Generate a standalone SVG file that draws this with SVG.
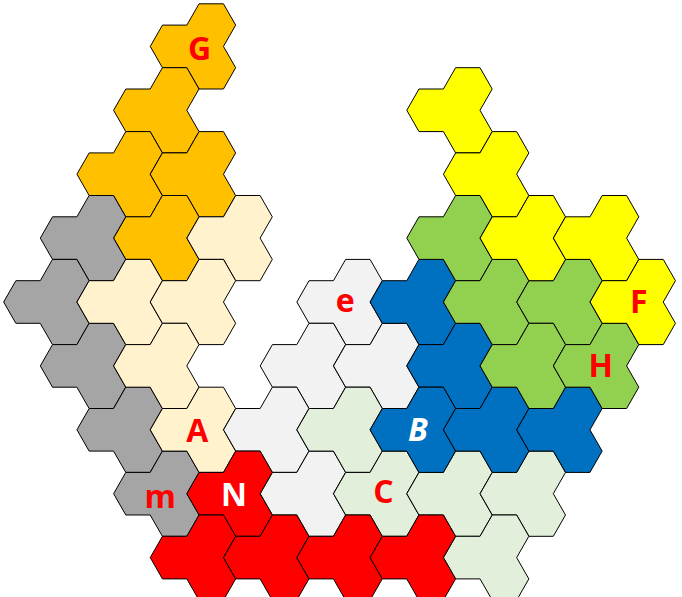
<svg xmlns="http://www.w3.org/2000/svg" xmlns:xlink="http://www.w3.org/1999/xlink" width="682" height="597" viewBox="0 0 682 597">
<style>
.p{stroke:#000;stroke-width:1;stroke-linejoin:miter}
.or{fill:#FFC000}.gy{fill:#A5A5A5}.cr{fill:#FFF2CC}.lg{fill:#F2F2F2}.lgn{fill:#E2EFDA}
.rd{fill:#FF0000}.bl{fill:#0070C0}.gn{fill:#92D050}.ye{fill:#FFFF00}
.t{font-family:"Open Sans","Noto Sans","Liberation Sans",sans-serif;font-weight:700;font-size:32px;text-anchor:middle}
.tr{fill:#FF0000}.tw{fill:#FFFFFF}
</style>
<defs>
<path id="tri" d="M-12.2,-21.3 L12.2,-21.3 L24.4,0 L12.2,21.3 L24.4,42.6 L12.2,63.9 L-12.2,63.9 L-24.4,42.6 L-48.8,42.6 L-61,21.3 L-48.8,0 L-24.4,0 Z"/>
</defs>
<rect width="682" height="597" fill="#FFFFFF"/>
<g id="pieces">
<g id="orange-G"><use xlink:href="#tri" href="#tri" class="p or" x="211.25" y="25.1"/></g>
<g id="orange-2"><use href="#tri" class="p or" x="174.6" y="89"/></g>
<g id="orange-3"><use href="#tri" class="p or" x="137.95" y="152.9"/></g>
<g id="orange-4"><use href="#tri" class="p or" x="211.25" y="152.9"/></g>
<g id="orange-5"><use href="#tri" class="p or" x="174.6" y="216.8"/></g>

<g id="gray-1"><use href="#tri" class="p gy" x="101.3" y="216.8"/></g>
<g id="gray-2"><use href="#tri" class="p gy" x="64.65" y="280.7"/></g>
<g id="gray-3"><use href="#tri" class="p gy" x="101.3" y="344.6"/></g>
<g id="gray-4"><use href="#tri" class="p gy" x="137.95" y="408.5"/></g>
<g id="gray-m"><use href="#tri" class="p gy" x="174.6" y="472.4"/></g>

<g id="cream-1"><use href="#tri" class="p cr" x="247.9" y="216.8"/></g>
<g id="cream-2"><use href="#tri" class="p cr" x="137.95" y="280.7"/></g>
<g id="cream-3"><use href="#tri" class="p cr" x="211.25" y="280.7"/></g>
<g id="cream-4"><use href="#tri" class="p cr" x="174.6" y="344.6"/></g>
<g id="cream-A"><use href="#tri" class="p cr" x="211.25" y="408.5"/></g>

<g id="lightgray-e"><use href="#tri" class="p lg" x="357.85" y="280.7"/></g>
<g id="lightgray-2"><use href="#tri" class="p lg" x="321.2" y="344.6"/></g>
<g id="lightgray-3"><use href="#tri" class="p lg" x="394.5" y="344.6"/></g>
<g id="lightgray-4"><use href="#tri" class="p lg" x="284.55" y="408.5"/></g>
<g id="lightgray-5"><use href="#tri" class="p lg" x="321.2" y="472.4"/></g>

<g id="lightgreen-1"><use href="#tri" class="p lgn" x="357.85" y="408.5"/></g>
<g id="lightgreen-C"><use href="#tri" class="p lgn" x="394.5" y="472.4"/></g>
<g id="lightgreen-3"><use href="#tri" class="p lgn" x="467.8" y="472.4"/></g>
<g id="lightgreen-4"><use href="#tri" class="p lgn" x="541.1" y="472.4"/></g>
<g id="lightgreen-5"><use href="#tri" class="p lgn" x="504.45" y="536.3"/></g>

<g id="red-N"><use href="#tri" class="p rd" x="247.9" y="472.4"/></g>
<g id="red-2"><use href="#tri" class="p rd" x="211.25" y="536.3"/></g>
<g id="red-3"><use href="#tri" class="p rd" x="284.55" y="536.3"/></g>
<g id="red-4"><use href="#tri" class="p rd" x="357.85" y="536.3"/></g>
<g id="red-5"><use href="#tri" class="p rd" x="431.15" y="536.3"/></g>

<g id="blue-1"><use href="#tri" class="p bl" x="431.15" y="280.7"/></g>
<g id="blue-2"><use href="#tri" class="p bl" x="467.8" y="344.6"/></g>
<g id="blue-B"><use href="#tri" class="p bl" x="431.15" y="408.5"/></g>
<g id="blue-4"><use href="#tri" class="p bl" x="504.45" y="408.5"/></g>
<g id="blue-5"><use href="#tri" class="p bl" x="577.75" y="408.5"/></g>

<g id="green-1"><use href="#tri" class="p gn" x="467.8" y="216.8"/></g>
<g id="green-2"><use href="#tri" class="p gn" x="504.45" y="280.7"/></g>
<g id="green-3"><use href="#tri" class="p gn" x="577.75" y="280.7"/></g>
<g id="green-4"><use href="#tri" class="p gn" x="541.1" y="344.6"/></g>
<g id="green-H"><use href="#tri" class="p gn" x="614.4" y="344.6"/></g>

<g id="yellow-1"><use href="#tri" class="p ye" x="467.8" y="89"/></g>
<g id="yellow-2"><use href="#tri" class="p ye" x="504.45" y="152.9"/></g>
<g id="yellow-3"><use href="#tri" class="p ye" x="541.1" y="216.8"/></g>
<g id="yellow-4"><use href="#tri" class="p ye" x="614.4" y="216.8"/></g>
<g id="yellow-F"><use href="#tri" class="p ye" x="651.05" y="280.7"/></g>
</g>
<g id="labels">
<text class="t tr" x="199.5" y="59.5">G</text>
<text class="t tr" x="345.3" y="311.7">e</text>
<text class="t tr" x="638.7" y="312.7">F</text>
<text class="t tr" x="600.7" y="376.7">H</text>
<text class="t tw" x="418" y="441" font-style="italic">B</text>
<text class="t tr" x="197.3" y="442">A</text>
<text class="t tr" x="383.5" y="502.5">C</text>
<text class="t tw" x="234" y="506">N</text>
<text class="t tr" x="160.3" y="508">m</text>
</g>
</svg>
